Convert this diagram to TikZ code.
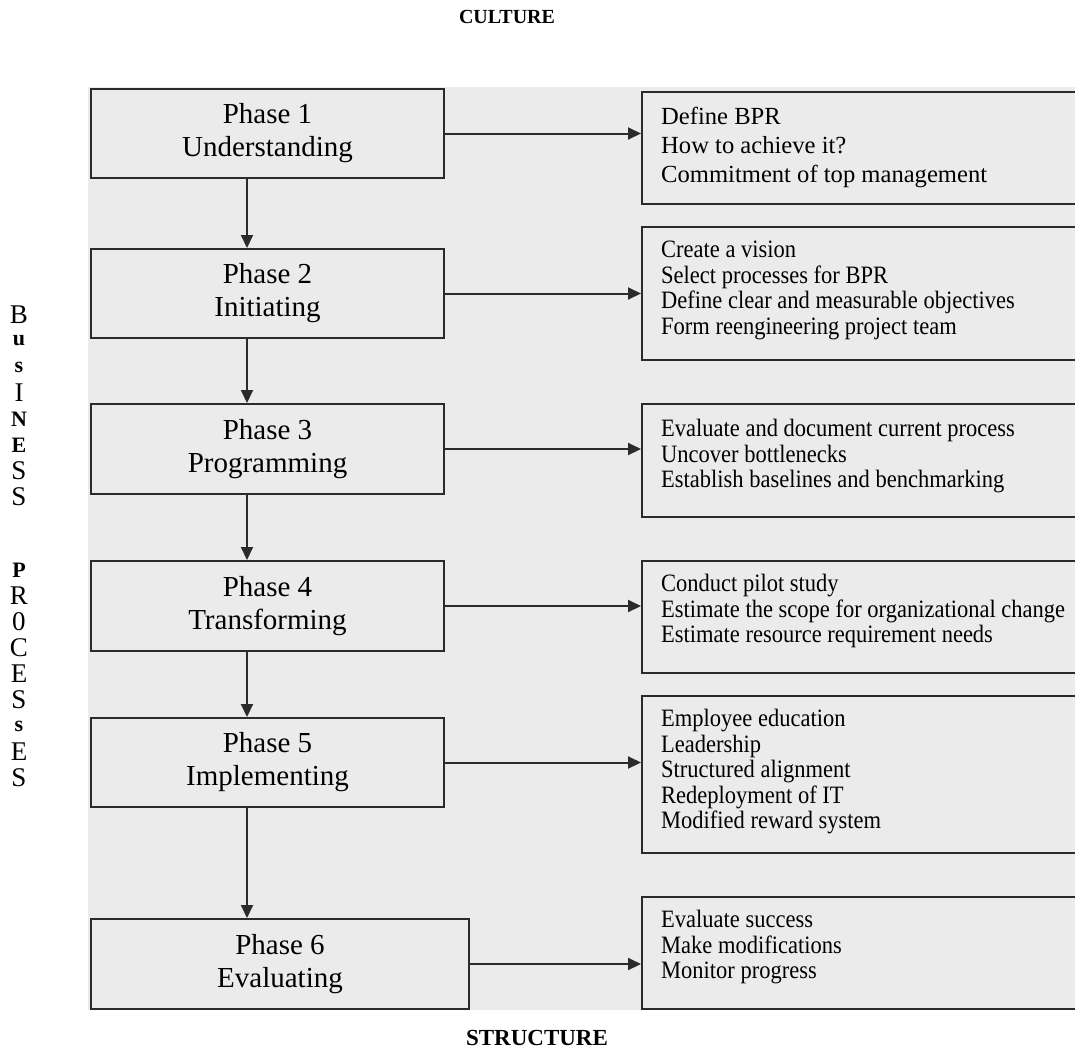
\documentclass[tikz,border=0pt]{standalone}
\usepackage{fontspec}
\setmainfont{Liberation Serif}
\newfontfamily\taskfont[FakeStretch=0.9]{Liberation Serif}
\usepackage{tikz}
\usetikzlibrary{arrows.meta}

\definecolor{scangray}{HTML}{EBEBEB}
\definecolor{inkgray}{HTML}{2B2B2B}

\tikzset{
  phase/.style={draw=inkgray, line width=2pt, minimum width=353pt, minimum height=89pt,
    align=center, anchor=north west, inner sep=0pt, font=\fontsize{29}{33}\selectfont},
  taskbox/.style={draw=inkgray, line width=2pt, minimum width=470pt, anchor=north west, inner sep=0pt},
  tasktext/.style={anchor=north west, align=left, inner sep=0pt, font=\taskfont\fontsize{25}{25.6}\selectfont},
  flow/.style={draw=inkgray, line width=2pt, -{Triangle[length=13pt,width=12pt]}},
  side/.style={font=\fontsize{27}{27}\selectfont},
  sidebf/.style={font=\fontsize{22}{22}\selectfont\bfseries}
}

\begin{document}
\begin{tikzpicture}[x=1pt,y=-1pt]
		\useasboundingbox (0,0) rectangle (1075,1052);
		\clip (0,0) rectangle (1075,1052);

		% scanned page behind the boxes
		\fill[scangray] (88,87) rectangle (1075,1010);

		% draw titles
		\node[font=\fontsize{20}{20}\selectfont\bfseries] (culture) at (507,17) {CULTURE};
		\node[font=\fontsize{23}{23}\selectfont\bfseries] (structure) at (537,1038) {STRUCTURE};

		% draw side letters
		\foreach \ltr/\yy in {B/315,I/393,S/471,S/497,R/596,0/622,C/648,E/674,S/700,E/752,S/778}
			\node[side] at (19,\yy) {\ltr};
		\foreach \ltr/\yy in {u/341,s/367,N/419,E/445,P/570,s/726}
			\node[sidebf] at (19,\yy) {\ltr};

		% draw phase boxes
		\node[phase] (p1) at (90,88) {Phase 1\\Understanding};
		\node[phase] (p2) at (90,248) {Phase 2\\Initiating};
		\node[phase, minimum height=90pt] (p3) at (90,403) {Phase 3\\Programming};
		\node[phase, minimum height=90pt] (p4) at (90,560) {Phase 4\\Transforming};
		\node[phase] (p5) at (90,717) {Phase 5\\Implementing};
		\node[phase, minimum width=378pt, minimum height=90pt] (p6) at (90,918) {Phase 6\\Evaluating};

		% draw task boxes
		\node[taskbox, minimum height=112pt] (t1) at (641,91) {};
		\node[taskbox, minimum height=133pt] (t2) at (641,226) {};
		\node[taskbox, minimum height=113pt] (t3) at (641,403) {};
		\node[taskbox, minimum height=112pt] (t4) at (641,560) {};
		\node[taskbox, minimum height=157pt] (t5) at (641,695) {};
		\node[taskbox, minimum height=112pt] (t6) at (641,896) {};

		% draw task texts
		\node[tasktext, font=\rmfamily\fontsize{24.6}{29}\selectfont] (l1) at (661,107)
			{Define BPR\\How to achieve it?\\Commitment of top management};
		\node[tasktext] (l2) at (661,241)
			{Create a vision\\Select processes for BPR\\Define clear and measurable objectives\\Form reengineering project team};
		\node[tasktext] (l3) at (661,419)
			{Evaluate and document current process\\Uncover bottlenecks\\Establish baselines and benchmarking};
		\node[tasktext] (l4) at (661,574)
			{Conduct pilot study\\Estimate the scope for organizational change\\Estimate resource requirement needs};
		\node[tasktext] (l5) at (661,709)
			{Employee education\\Leadership\\Structured alignment\\Redeployment of IT\\Modified reward system};
		\node[tasktext] (l6) at (661,910)
			{Evaluate success\\Make modifications\\Monitor progress};

		% draw arrows
		\coordinate (ax) at (247,0);
		\foreach \a/\b in {p1/p2,p2/p3,p3/p4,p4/p5,p5/p6}
			\draw[flow] (\a.south -| ax) -- (\b.north -| ax);
		\foreach \i in {1,...,6}
			\draw[flow] (p\i.east) -- (p\i.east -| t\i.west);
	\end{tikzpicture}
\end{document}
